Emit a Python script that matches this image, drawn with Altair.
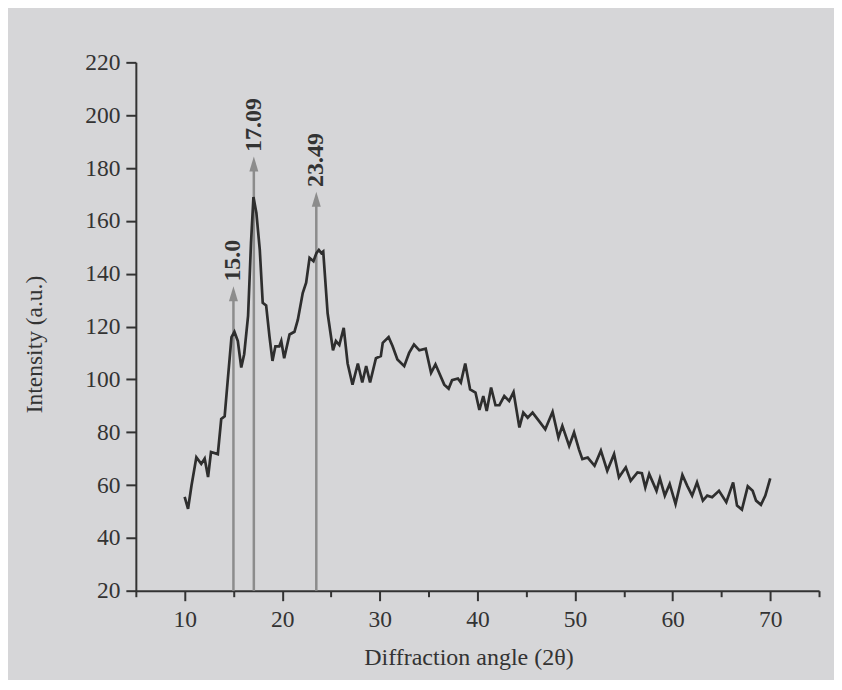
import altair as alt
import pandas as pd

# Diffraction pattern (2θ, intensity)
two_theta = [10.0, 10.35, 10.7, 11.2, 11.7, 12.05, 12.4, 12.7, 13.4, 13.75, 14.1, 14.4,
             14.8, 15.1, 15.45, 15.8, 16.1, 16.5, 16.8, 17.05, 17.35, 17.7, 18.0, 18.35,
             18.7, 19.0, 19.3, 19.7, 19.9, 20.2, 20.75, 21.25, 21.6, 22.1, 22.45, 22.8,
             23.2, 23.5, 23.75, 24.0, 24.2, 24.65, 25.2, 25.5, 25.85, 26.3, 26.7, 27.2,
             27.75, 28.2, 28.6, 29.0, 29.6, 30.1, 30.3, 30.9, 31.3, 31.8, 32.5, 33.0,
             33.5, 34.05, 34.7, 35.25, 35.7, 36.6, 37.05, 37.4, 38.0, 38.3, 38.75, 39.25,
             39.8, 40.2, 40.6, 40.95, 41.4, 41.85, 42.25, 42.75, 43.25, 43.7, 44.3, 44.7,
             45.15, 45.65, 46.3, 46.95, 47.7, 48.3, 48.7, 49.4, 49.9, 50.4, 50.75, 51.3,
             52.0, 52.65, 53.3, 54.0, 54.5, 55.2, 55.7, 56.4, 56.85, 57.2, 57.6, 58.35,
             58.7, 59.2, 59.7, 60.3, 61.0, 61.5, 62.0, 62.5, 63.1, 63.55, 64.05, 64.75,
             65.5, 66.2, 66.6, 67.1, 67.7, 68.2, 68.55, 69.05, 69.5, 70.0]
intensity = [55.5, 51, 59.7, 70.5, 68, 70, 63, 72.5, 71.7, 85, 86, 99,
             116, 118, 114.5, 104.5, 109.5, 124, 151.6, 169, 163, 149, 129, 128,
             116, 107, 112.5, 112.5, 114.5, 108, 117, 118, 122.6, 132.7, 136.6, 146,
             144.7, 147.8, 149, 147.8, 148.4, 125, 111, 114.5, 113, 119.5, 106, 98,
             106, 98.8, 105, 98.8, 108, 108.8, 113.8, 116, 112.6, 107.5, 105, 110,
             113.2, 111, 111.6, 102.5, 105.7, 98, 96.5, 99.7, 100.3, 98.8, 106, 96.2,
             95, 88.4, 93.7, 88, 96.9, 90.2, 90.2, 93.7, 91.8, 95.2, 81.8, 87.4,
             85.5, 87.4, 84.3, 81.1, 87.7, 78, 82.4, 74.8, 79.9, 73.5, 69.8, 70.4,
             67.3, 73, 65.4, 71.7, 62.9, 66.7, 61.6, 64.8, 64.5, 59.1, 64.2, 57.8,
             62.5, 56, 60.4, 52.8, 63.8, 59.7, 56, 61, 54.1, 56, 55.4, 57.8,
             53.5, 61, 52.2, 50.7, 59.5, 57.8, 54.1, 52.5, 56, 62.5]

# Peak markers
peak_pos = [15.0, 17.09, 23.49]
peak_label = ["15.0", "17.09", "23.49"]
peak_tip = [135.2, 184.3, 171.0]

x_ticks = [5, 10, 15, 20, 25, 30, 35, 40, 45, 50, 55, 60, 65, 70, 75]
y_ticks = [20, 30, 40, 50, 60, 70, 80, 90, 100, 110, 120, 130, 140, 150, 160,
           170, 180, 190, 200, 210, 220]

FONT = "Liberation Serif"
INK = "#333333"
ARROW = "#8c8c8c"
BG = "#d6d6d8"

curve = pd.DataFrame({"x": two_theta, "y": intensity})
peaks = pd.DataFrame({
    "x": peak_pos,
    "label": peak_label,
    "tip": peak_tip,
})
peaks["base"] = 20
peaks["head"] = peaks["tip"] - 2.8
peaks["text_y"] = peaks["tip"] + 1.8

xscale = alt.Scale(domain=[5, 75], nice=False, zero=False)
yscale = alt.Scale(domain=[20, 220], nice=False, zero=False)

xaxis = alt.Axis(
    values=x_ticks,
    labelExpr="datum.value % 10 === 0 ? datum.label : ''",
    tickSize={"condition": {"test": "datum.value % 10 === 0", "value": 10}, "value": 6},
    grid=False,
    domainColor=INK, domainWidth=2, tickColor=INK, tickWidth=2,
    labelFont=FONT, labelFontSize=23.5, labelColor=INK, labelPadding=7,
    title="Diffraction angle (2θ)", titleFont=FONT, titleFontSize=24,
    titleFontWeight="normal", titleColor=INK, titlePadding=14,
    titleX=333, titleAlign="center",
)
yaxis = alt.Axis(
    values=y_ticks,
    labelExpr="datum.value % 20 === 0 ? datum.label : ''",
    tickSize={"condition": {"test": "datum.value % 20 === 0", "value": 10}, "value": 5},
    grid=False,
    domainColor=INK, domainWidth=2, tickColor=INK, tickWidth=2,
    labelFont=FONT, labelFontSize=23.5, labelColor=INK, labelPadding=6,
    title="Intensity (a.u.)", titleFont=FONT, titleFontSize=23.5,
    titleFontWeight="normal", titleColor=INK, titlePadding=38,
    titleY=282, titleAlign="center",
)

line = alt.Chart(curve).mark_line(color="#2e2e2e", strokeWidth=2.7).encode(
    x=alt.X("x:Q", scale=xscale, axis=xaxis),
    y=alt.Y("y:Q", scale=yscale, axis=yaxis),
)

stems = alt.Chart(peaks).mark_rule(color=ARROW, strokeWidth=2.5).encode(
    x=alt.X("x:Q", scale=xscale),
    y=alt.Y("base:Q", scale=yscale),
    y2="head:Q",
)

heads = alt.Chart(peaks).mark_point(
    shape="M0,-1L0.6,1L-0.6,1Z", size=225, filled=True, color=ARROW, opacity=1
).encode(
    x=alt.X("x:Q", scale=xscale),
    y=alt.Y("head:Q", scale=yscale),
)

labels = alt.Chart(peaks).mark_text(
    angle=270, align="left", baseline="middle", font=FONT, fontSize=24,
    fontWeight="bold", color=INK,
).encode(
    x=alt.X("x:Q", scale=xscale),
    y=alt.Y("text_y:Q", scale=yscale),
    text="label:N",
)

chart = alt.layer(stems, heads, line, labels).properties(
    width=684, height=529,
    background=BG,
    padding={"left": 128, "top": 54, "right": 15, "bottom": 89},
    autosize=alt.AutoSizeParams(type="none"),
).configure_view(stroke=None)

chart.save("out.html", embed_options={"renderer": "svg", "actions": False})
